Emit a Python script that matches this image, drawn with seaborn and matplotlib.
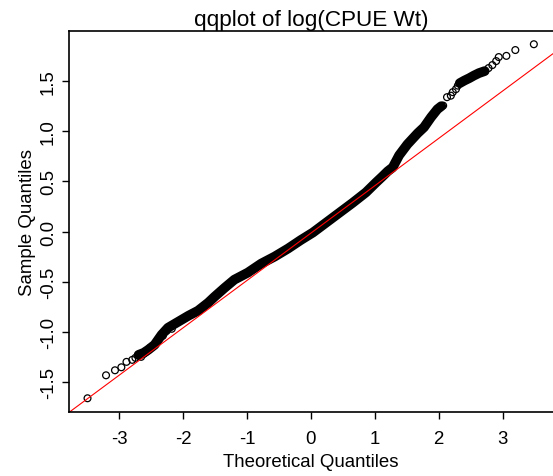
import matplotlib
matplotlib.use("Agg")
import matplotlib.pyplot as plt
import pandas as pd
import seaborn as sns

# ---- data ----
# dense part of the Q-Q cloud (overlapping points form a solid band)
band_theoretical = [-2.70, -2.62, -2.55, -2.45, -2.34, -2.24, -2.08, -1.92, -1.77,
                    -1.61, -1.51, -1.35, -1.20, -0.99, -0.78, -0.57, -0.36, -0.16,
                    0.03, 0.24, 0.45, 0.65, 0.86, 1.02, 1.12, 1.20, 1.28, 1.38,
                    1.51, 1.67, 1.77, 1.88, 1.98, 2.04]
band_sample = [-1.23, -1.21, -1.18, -1.13, -1.03, -0.96, -0.90, -0.84, -0.79,
               -0.71, -0.65, -0.56, -0.48, -0.41, -0.32, -0.25, -0.17, -0.085,
               -0.01, 0.09, 0.19, 0.285, 0.39, 0.49, 0.55, 0.60, 0.64, 0.76,
               0.87, 0.98, 1.04, 1.14, 1.22, 1.25]
band2_theoretical = [2.33, 2.40, 2.48, 2.55, 2.63, 2.72]
band2_sample = [1.48, 1.505, 1.53, 1.555, 1.58, 1.60]

# individually visible points
sparse_theoretical = [-3.50, -3.21, -3.07, -2.97, -2.89, -2.80, -2.75,
                      -2.70, -2.66, -2.62, -2.58, -2.52, -2.47, -2.44, -2.40,
                      -2.36, -2.32, -2.26, -2.18,
                      2.07, 2.13, 2.19, 2.22, 2.27, 2.30,
                      2.78, 2.84, 2.90, 2.94, 3.06, 3.20, 3.49]
sparse_sample = [-1.663, -1.434, -1.384, -1.354, -1.30, -1.28, -1.26,
                 -1.24, -1.25, -1.22, -1.20, -1.16, -1.14, -1.12, -1.08,
                 -1.05, -1.04, -0.99, -0.97,
                 1.256, 1.34, 1.355, 1.39, 1.42, 1.455,
                 1.63, 1.66, 1.70, 1.74, 1.752, 1.81, 1.868]

# reference line (qqline)
qqline_intercept = -0.015
qqline_slope = 0.472

x_ticks = [-3, -2, -1, 0, 1, 2, 3]
x_tick_labels = ["-3", "-2", "-1", "0", "1", "2", "3"]
y_ticks = [-1.5, -1.0, -0.5, 0.0, 0.5, 1.0, 1.5]
y_tick_labels = ["-1.5", "-1.0", "-0.5", "0.0", "0.5", "1.0", "1.5"]

title = "qqplot of log(CPUE Wt)"
x_label = "Theoretical Quantiles"
y_label = "Sample Quantiles"

# ---- drawing ----
sns.set_style("ticks")
plt.rcParams["font.family"] = ["Liberation Sans", "DejaVu Sans"]
plt.rcParams["axes.unicode_minus"] = False

fig = plt.figure(figsize=(5.53, 4.77), dpi=100)
ax = fig.add_axes([69 / 553, 64 / 477, 484 / 553, 381 / 477])

band_df = pd.DataFrame({"t": band_theoretical, "s": band_sample})
band2_df = pd.DataFrame({"t": band2_theoretical, "s": band2_sample})
sparse_df = pd.DataFrame({"t": sparse_theoretical, "s": sparse_sample})

for df in (band_df, band2_df):
    sns.lineplot(data=df, x="t", y="s", ax=ax, color="black", lw=7.0,
                 sort=False, estimator=None, solid_capstyle="round",
                 solid_joinstyle="round")

sns.scatterplot(data=sparse_df, x="t", y="s", ax=ax, marker="o", s=24,
                linewidth=0.9, legend=False)
coll = ax.collections[-1]
coll.set_facecolor("none")
coll.set_edgecolor("black")

ax.axline((0, qqline_intercept), slope=qqline_slope, color="red", lw=0.8)

ax.set_xlim(-3.79, 3.79)
ax.set_ylim(-1.80, 2.00)

ax.set_xticks(x_ticks)
ax.set_xticklabels(x_tick_labels)
ax.set_yticks(y_ticks)
ax.set_yticklabels(y_tick_labels, rotation=90, va="center")

ax.tick_params(axis="both", direction="out", length=5, width=1.0,
               labelsize=13.4, colors="black")
ax.tick_params(axis="x", pad=8.0)
ax.tick_params(axis="y", pad=3.6)

for side in ("left", "bottom", "top"):
    ax.spines[side].set_visible(True)
    ax.spines[side].set_linewidth(1.2)
    ax.spines[side].set_color("black")
ax.spines["right"].set_visible(False)

ax.set_title(title, fontsize=16.2, pad=4, color="black")
ax.set_xlabel(x_label, fontsize=13.4, color="black")
ax.set_ylabel(y_label, fontsize=13.4, color="black")
ax.xaxis.set_label_coords(0.5, -0.1076)
ax.yaxis.set_label_coords(-0.068, 0.5)

fig.savefig("out.png", dpi=100)
